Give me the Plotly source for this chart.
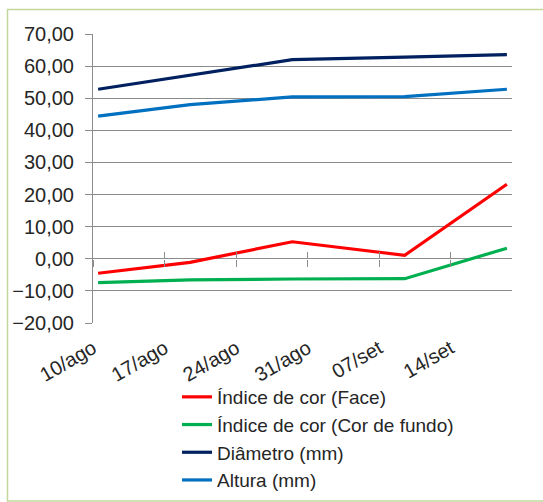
import pandas as pd
import plotly.graph_objects as go

# Sampling dates and measured series
sample_dates = ["2014-08-10", "2014-08-19", "2014-08-29", "2014-09-09", "2014-09-19"]
indice_face = [-4.5, -1.1, 5.3, 1.1, 23.2]
indice_fundo = [-7.4, -6.6, -6.3, -6.2, 3.3]
diametro = [52.8, 57.2, 62.0, 62.8, 63.6]
altura = [44.4, 48.0, 50.4, 50.5, 52.8]

series_names = [
    "Índice de cor (Face)",
    "Índice de cor (Cor de fundo)",
    "Diâmetro (mm)",
    "Altura (mm)",
]
series_colors = ["#ff0000", "#00b050", "#002060", "#0070c0"]

# Weekly tick marks on the date axis
tick_dates = ["2014-08-10", "2014-08-17", "2014-08-24", "2014-08-31", "2014-09-07", "2014-09-14"]
tick_labels = ["10/ago", "17/ago", "24/ago", "31/ago", "07/set", "14/set"]
axis_start, axis_end = "2014-08-10", "2014-09-20"

y_min, y_max, y_step = -20, 70, 10

# each day occupies one slot on the axis; points sit in the middle of their day
x_points = pd.to_datetime(sample_dates) + pd.Timedelta(hours=12)

FONT = "Liberation Sans, Arial, sans-serif"
FS = 20
TEXT = "#262626"
GRID = "#8c8c8c"

fig = go.Figure()
for name, values, color in zip(series_names, [indice_face, indice_fundo, diametro, altura], series_colors):
    fig.add_trace(go.Scatter(
        x=x_points, y=values, name=name, mode="lines",
        line=dict(color=color, width=3.2),
    ))

# empty helpers so the crossing tick axes at y = 0 get drawn
for ax in ("x2", "x3"):
    fig.add_trace(go.Scatter(x=[], y=[], xaxis=ax, yaxis="y", showlegend=False, hoverinfo="skip"))

ml, mr, mt, mb = 93, 31, 34, 179
W, H = 543, 502
pw, ph = W - ml - mr, H - mt - mb

zero_pos = (0 - y_min) / (y_max - y_min)

cross_axis = dict(
    overlaying="x", matches="x", anchor="free", position=zero_pos,
    type="date", range=[axis_start, axis_end],
    tickmode="array", tickvals=tick_dates, showticklabels=False,
    ticklen=7, tickwidth=1, tickcolor=GRID,
    showgrid=False, zeroline=False, showline=False, automargin=False,
)

fig.update_layout(
    width=W, height=H,
    margin=dict(l=ml, r=mr, t=mt, b=mb, pad=0, autoexpand=False),
    paper_bgcolor="white", plot_bgcolor="white",
    separators=",.",
    font=dict(family=FONT, size=FS, color=TEXT),
    xaxis=dict(
        type="date", range=[axis_start, axis_end],
        tickmode="array", tickvals=tick_dates, ticktext=tick_labels,
        tickangle=-30, ticks="", showgrid=False, zeroline=False, showline=False,
        automargin=False, ticklabelstandoff=9,
        tickfont=dict(family=FONT, size=FS, color=TEXT),
    ),
    xaxis2=dict(cross_axis, ticks="outside"),
    xaxis3=dict(cross_axis, ticks="inside"),
    yaxis=dict(
        range=[y_min, y_max], tickmode="linear", tick0=y_min, dtick=y_step,
        tickformat=".2f", ticks="outside", ticklen=7, tickcolor=GRID,
        showgrid=True, gridcolor=GRID, gridwidth=1,
        zeroline=False, showline=True, linecolor=GRID, linewidth=1,
        ticklabelstandoff=7, automargin=False,
        tickfont=dict(family=FONT, size=FS, color=TEXT),
    ),
    showlegend=True,
    legend=dict(
        xref="container", yref="container",
        x=177 / W, y=1 - 378 / H, xanchor="left", yanchor="top",
        font=dict(family=FONT, size=19, color=TEXT),
        bgcolor="rgba(0,0,0,0)", tracegroupgap=0,
    ),
)

# light green frame around the chart area
fig.add_shape(
    type="rect", xref="paper", yref="paper",
    x0=(7.5 - ml) / pw, x1=(W + 30 - ml) / pw,
    y0=(H - mb - 501) / ph, y1=(H - mb - 9.5) / ph,
    line=dict(color="#c3d69b", width=1.5), fillcolor="rgba(0,0,0,0)",
    layer="below",
)

fig.write_html("out.html")
